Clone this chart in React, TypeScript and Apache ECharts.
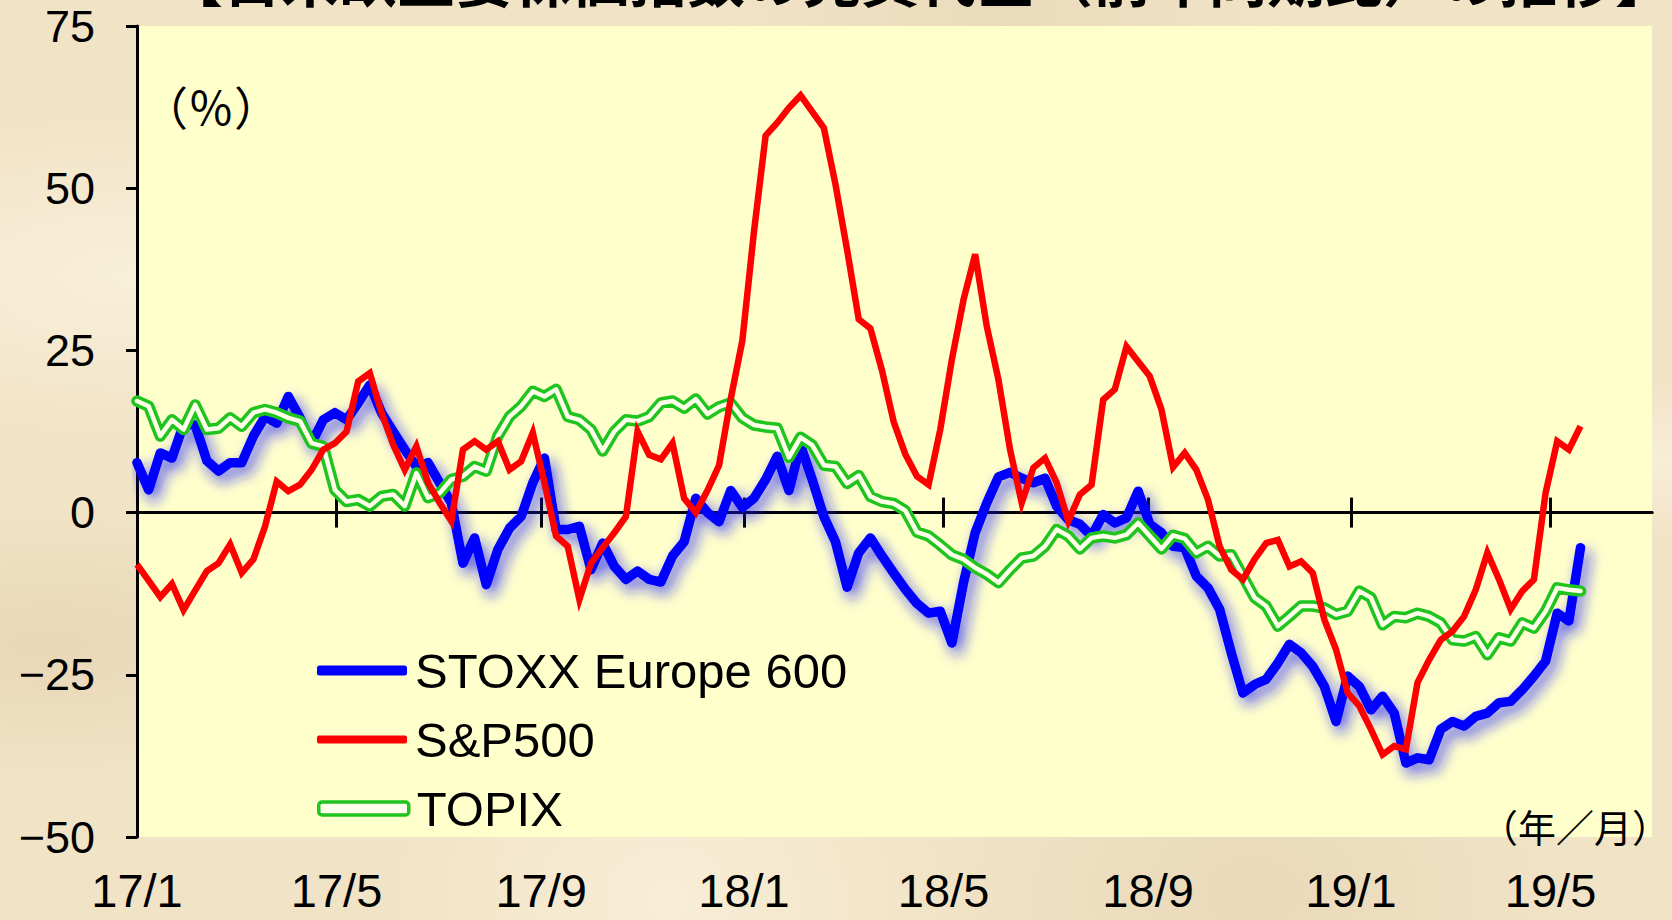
import React, { useEffect, useRef } from "react";
import * as echarts from "echarts";

// ---- axis definitions ----
const axisStart = "2017-01-01";
const axisEnd = "2019-07-01";
const tickLabels = ["17/1", "17/5", "17/9", "18/1", "18/5", "18/9", "19/1", "19/5"];
const tickDates = ["2017-01-01", "2017-05-01", "2017-09-01", "2018-01-01", "2018-05-01", "2018-09-01", "2019-01-01", "2019-05-01"];
const yMin = -50;
const yMax = 75;
const yStep = 25;
const weekStepDays = 7;

// ---- weekly series (%), first point at 2017/1 ----
const stoxx = [
  7.7, 3.5, 9.2, 8.4, 13.6, 13.5, 8.0, 6.4, 7.7, 7.7,
  11.8, 14.8, 13.8, 17.9, 14.6, 10.7, 14.3, 15.4, 14.3, 16.9,
  19.7, 15.4, 12.5, 9.7, 7.1, 7.7, 4.6, 1.5, -7.8, -3.9,
  -11.1, -5.7, -2.4, -0.6, 4.6, 8.4, -2.6, -2.6, -2.1, -8.8,
  -4.7, -8.3, -10.3, -9.0, -10.3, -10.7, -6.7, -4.5, 2.2, 0,
  -1.4, 3.4, 0.8, 2.2, 5.1, 8.7, 3.4, 10.4, 5.1, -0.6,
  -4.5, -11.5, -6.2, -3.9, -6.7, -9.3, -11.8, -14, -15.5, -15.2,
  -20.1, -10.8, -3.1, 1.5, 5.5, 6.2, 5.3, 4.6, 5.3, 1.0,
  -1.1, -1.8, -3.6, -0.3, -1.6, -0.8, 3.3, -1.8, -3.1, -5.2,
  -5.4, -9.8, -11.6, -14.9, -21.6, -27.8, -26.5, -25.7, -23.2, -20.3,
  -21.6, -23.7, -26.8, -32.2, -25.2, -26.8, -30.4, -28.3, -30.9, -38.6,
  -37.8, -38.1, -33.4, -32.2, -32.9, -31.4, -30.9, -29.3, -29.1, -27.3,
  -25.2, -22.9, -15.5, -16.7, -5.4,
];

const sp500 = [
  -8.0, -10.5, -13, -11, -15, -12, -9, -7.8, -4.9, -9.3,
  -7.2, -2.1, 4.8, 3.3, 4.3, 6.6, 9.7, 10.7, 12.5, 20.2,
  21.5, 15.4, 10.5, 6.6, 10.2, 4.6, 1.5, -1.3, 9.7, 11.0,
  9.7, 11.0, 6.6, 7.9, 12.3, 4.6, -3.6, -5.2, -13.4, -7.8,
  -5.4, -3.1, -0.6, 12.5, 8.9, 8.2, 10.7, 2.2, 0, 3.4,
  7.3, 17.5, 26.5, 43.3, 58.1, 60.1, 62.4, 64.3, 61.8, 59.3,
  50.6, 40.5, 29.8, 28.4, 21.9, 14.0, 9.0, 5.6, 4.3, 12.8,
  23.6, 32.8, 39.8, 28.7, 20.5, 9.7, 1.5, 6.9, 8.4, 4.6,
  -1.3, 2.8, 4.3, 17.4, 19.0, 25.6, 23.3, 21.0, 15.9, 7.0,
  9.2, 6.6, 2.0, -5.2, -8.8, -10.3, -7.2, -4.7, -4.2, -8.3,
  -7.5, -9.3, -16.5, -21.1, -27.8, -29.8, -33.4, -37.3, -36.0, -36.5,
  -26.2, -22.7, -19.6, -18.3, -16, -11.9, -6.2, -10.3, -14.9, -12.1,
  -10.3, 3, 11.0, 9.7, 13.3,
];

const topix = [
  17.2, 16.4, 11.8, 14.3, 12.8, 16.6, 12.8, 13.0, 14.6, 13.3,
  15.4, 15.9, 15.4, 14.6, 14.1, 10.7, 10.2, 3.5, 1.7, 2.0,
  1.0, 2.5, 2.8, 1.0, 6.1, 2.3, 3.0, 5.1, 5.6, 7.1,
  6.4, 11.8, 14.8, 16.4, 18.7, 17.9, 19.0, 14.8, 14.3, 12.8,
  9.5, 12.5, 14.3, 14.1, 14.8, 16.9, 17.2, 16.1, 17.5, 15.2,
  16.3, 16.9, 14.6, 13.5, 13.2, 13.0, 8.5, 11.6, 10.4, 7.3,
  7.1, 4.5, 5.7, 2.5, 1.7, 1.4, 0.3, -3.0, -3.6, -5.0,
  -6.5, -7.2, -8.5, -9.5, -10.8, -8.8, -7.0, -6.7, -5.2, -2.6,
  -3.6, -5.6, -3.9, -3.6, -3.9, -3.4, -1.6, -3.6, -5.6, -3.5,
  -4.0, -6.2, -5.2, -6.7, -6.5, -9.8, -13.1, -14.4, -17.5, -16.0,
  -14.4, -14.4, -14.7, -15.7, -15.2, -12.1, -13.1, -17.3, -16.0, -16.2,
  -15.5, -16.0, -17.0, -19.6, -19.8, -19.1, -21.9, -19.3, -19.8, -17.0,
  -17.8, -15.2, -11.6, -11.9, -12.1,
];

const titleText = "【日米欧主要株価指数の売買代金（前年同期比）の推移】";
const yUnitText = "（％）";
const xUnitText = "（年／月）";

const DAY_MS = 86400000;
const dayOf = (s: string) => Math.round((Date.parse(s) - Date.parse(axisStart)) / DAY_MS);
const tickDays = tickDates.map(dayOf);
const maxDay = dayOf(axisEnd);
const toPoints = (vals: number[]) => vals.map((v, i) => [i * weekStepDays, v]);

const LATIN = "'Liberation Sans', Arial, sans-serif";
const CJK = "'Noto Sans CJK JP', 'Noto Sans', sans-serif";

export default function App() {
  const ref = useRef<HTMLDivElement>(null);

  useEffect(() => {
    if (!ref.current) return;
    const chart = echarts.init(ref.current, undefined, { renderer: "svg" });

    const zeroAxis = (inside: boolean) => ({
      type: "value",
      min: 0,
      max: maxDay,
      position: "bottom",
      axisLine: { show: true, onZero: true, onZeroAxisIndex: 0, lineStyle: { color: "#000", width: 3 } },
      axisTick: { show: true, inside, customValues: tickDays, length: 15, lineStyle: { color: "#000", width: 3 } },
      axisLabel: { show: false },
      splitLine: { show: false },
    });

    const legendText = { fontSize: 49, color: "#000", fontFamily: LATIN, padding: [0, 0, 0, 3] };

    chart.setOption({
      animation: false,
      grid: {
        left: 137,
        right: 20,
        top: 26,
        bottom: 83,
        show: true,
        backgroundColor: "#FFFFCC",
        borderWidth: 0,
      },
      xAxis: [
        {
          type: "value",
          min: 0,
          max: maxDay,
          position: "bottom",
          axisLine: { show: false, onZero: false },
          axisTick: { show: false },
          splitLine: { show: false },
          axisLabel: {
            customValues: tickDays,
            formatter: (v: number) => {
              const k = tickDays.indexOf(v);
              return k >= 0 ? tickLabels[k] : "";
            },
            fontSize: 47,
            color: "#000",
            margin: 30,
            fontFamily: LATIN,
          },
        },
        zeroAxis(false),
        zeroAxis(true),
      ],
      yAxis: {
        type: "value",
        min: yMin,
        max: yMax,
        interval: yStep,
        axisLine: { show: true, onZero: false, lineStyle: { color: "#000", width: 3 } },
        axisTick: { show: true, length: 11, lineStyle: { color: "#000", width: 3 } },
        splitLine: { show: false },
        axisLabel: {
          fontSize: 45,
          color: "#000",
          margin: 42,
          fontFamily: LATIN,
          formatter: (v: number) => (v < 0 ? "−" + Math.abs(v) : String(v)),
        },
      },
      legend: [
        {
          data: [{ name: "STOXX Europe 600", itemStyle: { color: "#0000FF" } }],
          left: 312,
          top: 641,
          icon: "roundRect",
          itemWidth: 90,
          itemHeight: 10,
          textStyle: legendText,
          selectedMode: false,
        },
        {
          data: [{ name: "S&P500", itemStyle: { color: "#FF0000" } }],
          left: 312,
          top: 710,
          icon: "roundRect",
          itemWidth: 90,
          itemHeight: 8,
          textStyle: legendText,
          selectedMode: false,
        },
        {
          data: [{ name: "TOPIX", itemStyle: { color: "#FFFFEA", borderColor: "#1FC41F", borderWidth: 3.5 } }],
          left: 312,
          top: 779,
          icon: "roundRect",
          itemWidth: 90,
          itemHeight: 13,
          textStyle: legendText,
          selectedMode: false,
        },
      ],
      graphic: [
        {
          type: "text",
          left: 142,
          top: 82,
          style: { text: yUnitText, font: `46px ${CJK}`, fill: "#000" },
        },
        {
          type: "text",
          left: 1480,
          top: 806,
          style: { text: xUnitText, font: `38px ${CJK}`, fill: "#000" },
        },
        {
          type: "text",
          left: 165,
          top: -52,
          style: { text: titleText, font: `bold 58px ${CJK}`, fill: "#000" },
        },
      ],
      series: [
        {
          type: "line",
          name: "STOXX Europe 600",
          data: toPoints(stoxx),
          symbol: "none",
          z: 3,
          itemStyle: { color: "#0000FF" },
          lineStyle: {
            color: "#0000FF",
            width: 9.5,
            join: "round",
            cap: "round",
            shadowColor: "rgba(30,30,255,0.7)",
            shadowBlur: 14,
            shadowOffsetX: 5,
            shadowOffsetY: 7,
          },
        },
        {
          type: "line",
          name: "TOPIX",
          data: toPoints(topix),
          symbol: "none",
          z: 4,
          itemStyle: { color: "#1FC41F" },
          lineStyle: { color: "#1FC41F", width: 11.5, join: "round", cap: "round" },
        },
        {
          type: "line",
          name: "TOPIX inner",
          data: toPoints(topix),
          symbol: "none",
          z: 5,
          itemStyle: { color: "#FFFFEA" },
          lineStyle: { color: "#FFFFEA", width: 4.5, join: "round", cap: "round" },
        },
        {
          type: "line",
          name: "S&P500",
          data: toPoints(sp500),
          symbol: "none",
          z: 6,
          itemStyle: { color: "#FF0000" },
          lineStyle: { color: "#FF0000", width: 6.5, join: "miter" },
        },
      ],
    });

    return () => chart.dispose();
  }, []);

  const bg: React.CSSProperties = {
    position: "fixed",
    left: 0,
    top: 0,
    width: 1672,
    height: 920,
    backgroundColor: "#F1E3C6",
    backgroundImage: [
      "radial-gradient(ellipse at 8% 30%, rgba(255,250,235,0.55), rgba(255,250,235,0) 18%)",
      "radial-gradient(ellipse at 3% 70%, rgba(205,180,140,0.25), rgba(205,180,140,0) 15%)",
      "radial-gradient(ellipse at 40% 98%, rgba(255,248,230,0.5), rgba(255,248,230,0) 20%)",
      "radial-gradient(ellipse at 75% 97%, rgba(210,188,150,0.25), rgba(210,188,150,0) 18%)",
      "radial-gradient(ellipse at 99% 50%, rgba(255,248,232,0.5), rgba(255,248,232,0) 12%)",
      "radial-gradient(ellipse at 60% 1%, rgba(215,195,160,0.25), rgba(215,195,160,0) 20%)",
    ].join(","),
  };

  return (
    <div style={bg}>
      <div ref={ref} style={{ width: 1672, height: 920 }} />
    </div>
  );
}
